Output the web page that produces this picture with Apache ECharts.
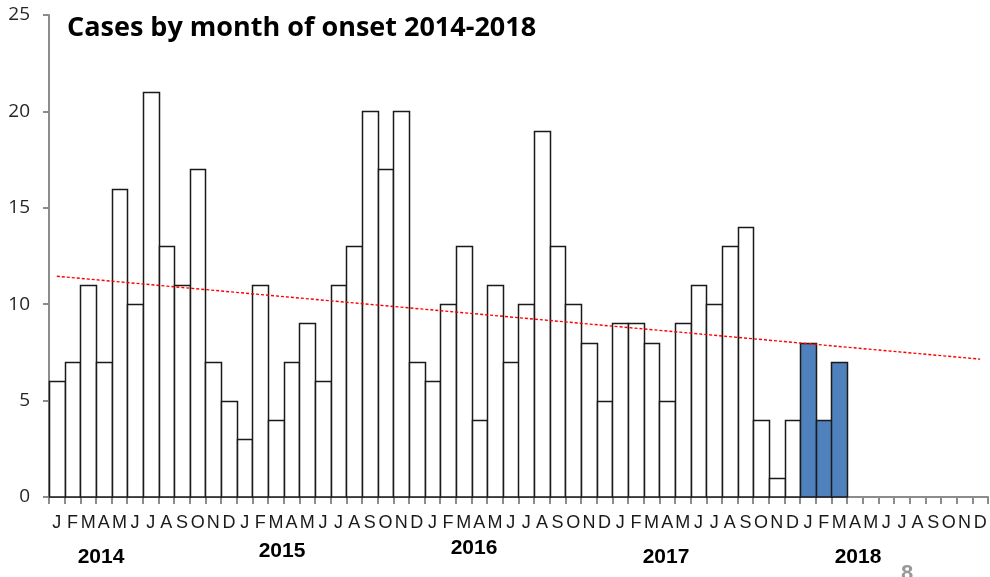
<!DOCTYPE html>
<html>
<head>
<meta charset="utf-8">
<script src="https://cdn.jsdelivr.net/npm/echarts@6/dist/echarts.min.js"></script>
<style>
  html, body { margin: 0; padding: 0; background: #fff; }
  #chart { width: 990px; height: 577px; }
</style>
</head>
<body>
<div id="chart"></div>
<script>
// month letters, repeated for each year
const monthLetters = ["J", "F", "M", "A", "M", "J", "J", "A", "S", "O", "N", "D"];
const years = ["2014", "2015", "2016", "2017", "2018"];

// cases per month
const cases2014 = [6, 7, 11, 7, 16, 10, 21, 13, 11, 17, 7, 5];
const cases2015 = [3, 11, 4, 7, 9, 6, 11, 13, 20, 17, 20, 7];
const cases2016 = [6, 10, 13, 4, 11, 7, 10, 19, 13, 10, 8, 5];
const cases2017 = [9, 9, 8, 5, 9, 11, 10, 13, 14, 4, 1, 4];
const cases2018 = [8, 4, 7, null, null, null, null, null, null, null, null, null];

// dashed trend line, value at first and last month
const trendEnds = [11.45, 7.15];

const yTicks = { min: 0, max: 25, interval: 5 };

// 构建类目和数据
const categories = [];
years.forEach((y) => monthLetters.forEach((m) => categories.push(m)));

const allCases = [].concat(cases2014, cases2015, cases2016, cases2017, cases2018);
const firstHighlight = 48; // 2018 bars are blue

const trendData = categories.map(() => null);
trendData[0] = trendEnds[0];
trendData[trendData.length - 1] = trendEnds[1];

// year labels under the axis
const yearPos = [
  { text: "2014", x: 101, y: 557 },
  { text: "2015", x: 282, y: 551 },
  { text: "2016", x: 474, y: 548 },
  { text: "2017", x: 666, y: 557 },
  { text: "2018", x: 858, y: 557 },
];

const chart = echarts.init(document.getElementById("chart"));

// 每根柱子占满整个类目宽度
const renderBar = (params, api) => {
  const idx = params.dataIndex;
  const v = api.value(1);
  if (v == null || isNaN(v)) return null;
  const top = api.coord([api.value(0), v]);
  const base = api.coord([api.value(0), 0]);
  const w = api.size([1, 0])[0];
  const x0 = Math.round(top[0] - w / 2) + 0.5;
  const x1 = Math.round(top[0] + w / 2) + 0.5;
  const y0 = Math.round(top[1]) + 0.5;
  return {
    type: "rect",
    shape: { x: x0, y: y0, width: x1 - x0, height: base[1] - y0 },
    style: {
      fill: idx >= firstHighlight ? "#4f81bd" : "#fff",
      stroke: "#1a1a1a",
      lineWidth: 1.5,
    },
  };
};

const option = {
  animation: false,
  backgroundColor: "#fff",
  grid: { left: 49, right: 2, top: 15, bottom: 80, containLabel: false },
  xAxis: {
    type: "category",
    data: categories,
    boundaryGap: true,
    axisLine: { lineStyle: { color: "#8c8c8c", width: 2 } },
    axisTick: { show: true, length: 7, lineStyle: { color: "#8c8c8c", width: 2 } },
    axisLabel: {
      interval: 0,
      margin: 17,
      color: "#1a1a1a",
      fontSize: 18,
      fontFamily: "Liberation Sans",
    },
    splitLine: { show: false },
  },
  yAxis: {
    type: "value",
    min: yTicks.min,
    max: yTicks.max,
    interval: yTicks.interval,
    axisLine: { show: true, lineStyle: { color: "#8c8c8c", width: 2 } },
    axisTick: { show: true, length: 6, lineStyle: { color: "#8c8c8c", width: 2 } },
    axisLabel: {
      margin: 19,
      color: "#262626",
      fontSize: 19,
      fontFamily: "Open Sans",
    },
    splitLine: { show: false },
  },
  series: [
    {
      name: "cases",
      type: "custom",
      renderItem: renderBar,
      data: allCases.map((v, i) => [i, v]),
      encode: { x: 0, y: 1 },
      z: 2,
    },
    {
      name: "trend",
      type: "line",
      data: trendData,
      connectNulls: true,
      showSymbol: false,
      symbol: "none",
      lineStyle: { color: "#ff0000", width: 1.4, type: [3, 2] },
      z: 3,
    },
  ],
  graphic: [
    {
      type: "text",
      left: 67,
      top: 15,
      style: {
        text: "Cases by month of onset 2014-2018",
        font: "bold 27px 'Open Sans'",
        fill: "#000",
      },
    },
    {
      type: "text",
      left: 901,
      top: 563,
      style: { text: "8", font: "bold 22px 'Liberation Sans'", fill: "#999" },
    },
  ].concat(
    yearPos.map((p) => ({
      type: "text",
      x: p.x,
      y: p.y,
      style: {
        text: p.text,
        font: "bold 21px 'Liberation Sans Narrow', 'Liberation Sans'",
        fill: "#000",
        textAlign: "center",
        textVerticalAlign: "middle",
      },
    }))
  ),
};

chart.setOption(option);
window.addEventListener("resize", () => chart.resize());
</script>
</body>
</html>
